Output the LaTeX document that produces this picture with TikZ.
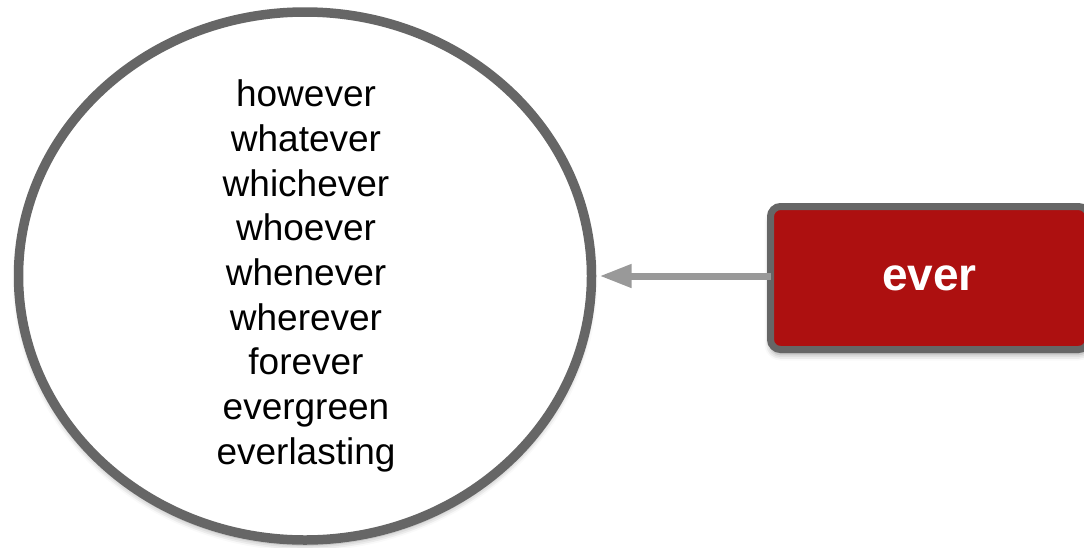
\documentclass[tikz,border=0pt]{standalone}
\usepackage{fontspec}
\setmainfont{Liberation Sans}
\usetikzlibrary{shapes.geometric,arrows.meta,shadows.blur}
\definecolor{boxred}{HTML}{AD1010}
\definecolor{edgegray}{HTML}{666666}
\definecolor{arrowgray}{HTML}{999999}
\tikzset{
  softshadow/.style={blur shadow={shadow xshift=0pt,shadow yshift=-5pt,shadow blur radius=6pt,shadow opacity=40}},
  wordcloud/.style={ellipse,draw=edgegray,line width=9.5pt,fill=white,inner sep=0pt,outer sep=0pt,
    minimum width=573pt,minimum height=528pt,softshadow},
  wordlist/.style={align=center,inner sep=0pt,font=\fontsize{37pt}{44.7pt}\selectfont},
  rootbox/.style={rectangle,rounded corners=10pt,draw=edgegray,line width=7pt,fill=boxred,
    minimum width=318pt,minimum height=143pt,inner sep=0pt,outer sep=0pt,text=white,
    font=\fontsize{46pt}{50pt}\selectfont\bfseries,softshadow},
  link/.style={draw=arrowgray,line width=7pt,-{Triangle[length=32pt,width=22pt]},shorten >=8pt}
}
\begin{document}
\begin{tikzpicture}[x=1pt,y=-1pt]
\useasboundingbox (0,0) rectangle (1084,547);
\node[wordcloud] (ell) at (305,276) {};
\node[wordlist] (words) at (306,276) {however\\whatever\\whichever\\whoever\\whenever\\wherever\\forever\\evergreen\\everlasting};
\node[rootbox] (root) at (929.5,278) {ever};
\draw[link] (root.west |- ell.east) -- (ell.east);
\end{tikzpicture}
\end{document}
